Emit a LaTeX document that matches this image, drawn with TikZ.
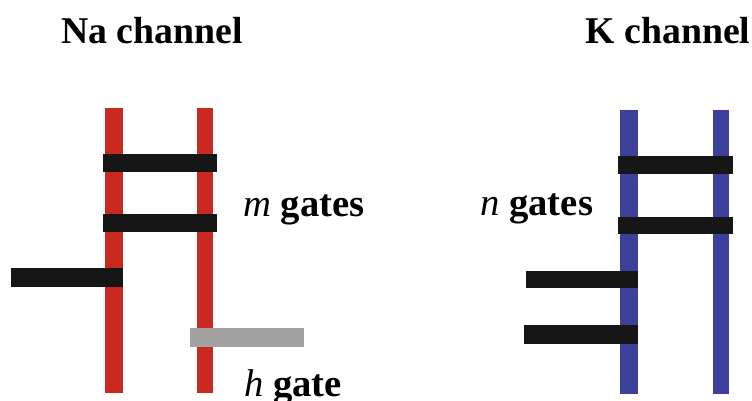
\documentclass[tikz,border=0pt]{standalone}
\usepackage{fontspec}
\setmainfont{Liberation Serif}
\definecolor{nared}{RGB}{200,40,30}
\definecolor{kblue}{RGB}{60,64,155}
\definecolor{gateblack}{RGB}{22,22,22}
\definecolor{hgrey}{RGB}{162,163,161}
\begin{document}
\begin{tikzpicture}[x=0.02cm,y=-0.02cm,
  lbl/.style={font=\fontsize{22}{26}\selectfont\bfseries, anchor=base west, inner sep=0pt},
  ttl/.style={font=\fontsize{21.5}{26}\selectfont\bfseries, anchor=base, inner sep=0pt}]
  \useasboundingbox (0,0) rectangle (752,400);

  \node[ttl] (natitle) at (152,43) {Na channel};
  \node[ttl] (ktitle) at (668,43) {K channel};

  % Na channel: two walls, two m gates across, one on the left, h gate below
  \fill[nared] (105,108) rectangle (123,393);
  \fill[nared] (197,108) rectangle (213,393);
  \fill[gateblack] (103,154) rectangle (217,172);
  \fill[gateblack] (103,214) rectangle (217,232);
  \fill[gateblack] (11,268) rectangle (123,287);
  \fill[hgrey] (190,328) rectangle (304,347);

  \node[lbl] (mgates) at (243,216) {{\mdseries\itshape m} gates};
  \node[lbl] (hgate) at (244,396) {{\mdseries\itshape h} gate};

  % K channel: two walls, four n gates
  \fill[kblue] (620,110) rectangle (638,394);
  \fill[kblue] (713,110) rectangle (729,394);
  \fill[gateblack] (618,156) rectangle (733,174);
  \fill[gateblack] (618,217) rectangle (733,234);
  \fill[gateblack] (526,271) rectangle (638,288);
  \fill[gateblack] (524,325) rectangle (638,344);

  \node[lbl] (ngates) at (480,215) {{\mdseries\itshape n} gates};

\end{tikzpicture}
\end{document}
